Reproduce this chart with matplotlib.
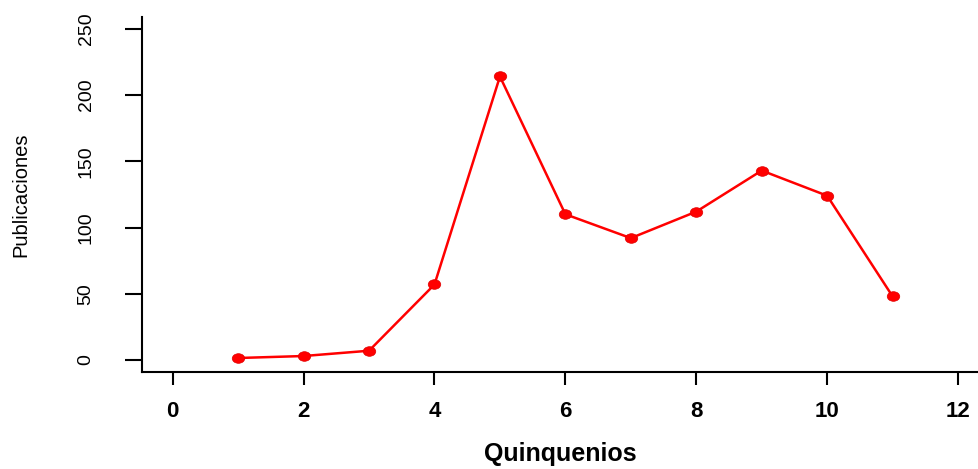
import matplotlib.pyplot as plt
from matplotlib.path import Path
from matplotlib.transforms import Affine2D

quinquenios = [1, 2, 3, 4, 5, 6, 7, 8, 9, 10, 11]
publicaciones = [1.5, 3, 7, 57, 214, 110, 92, 112, 143, 124, 48]
xticks = [0, 2, 4, 6, 8, 10, 12]
yticks = [0, 50, 100, 150, 200, 250]

plt.rcParams['font.family'] = ['Liberation Sans', 'DejaVu Sans']

fig = plt.figure(figsize=(9.79, 4.69), dpi=100)
ax = fig.add_axes([0.145, 0.207, 0.855, 0.757])

# slightly wide dots, like the stretched original
ellipse = Path.unit_circle().transformed(Affine2D().scale(1.3, 1.0))
ax.plot(quinquenios, publicaciones, color='#ff0000', lw=1.8,
        marker=ellipse, markersize=9, markerfacecolor='#ff0000',
        markeredgecolor='#e00000', markeredgewidth=0.5)

ax.set_xlim(-0.47, 12.32)
ax.set_ylim(-9, 259)
ax.set_xticks(xticks)
ax.set_yticks(yticks)
ax.set_xticklabels([str(t) for t in xticks], fontsize=16, fontweight='bold')
ax.set_yticklabels([str(t) for t in yticks], fontsize=14, rotation=90,
                   va='center')

for s in ['top', 'right']:
    ax.spines[s].set_visible(False)
for s in ['left', 'bottom']:
    ax.spines[s].set_linewidth(1.5)

ax.tick_params(axis='y', length=12, width=1.5, pad=22)
ax.tick_params(axis='x', length=9, width=1.5, pad=12)

ax.set_xlabel('Quinquenios', fontsize=18, fontweight='bold')
ax.xaxis.set_label_coords(0.5, -0.198)
ax.set_ylabel('Publicaciones', fontsize=14.5)
ax.yaxis.set_label_coords(-0.133, 0.5)

fig.savefig('out.png', dpi=100)
